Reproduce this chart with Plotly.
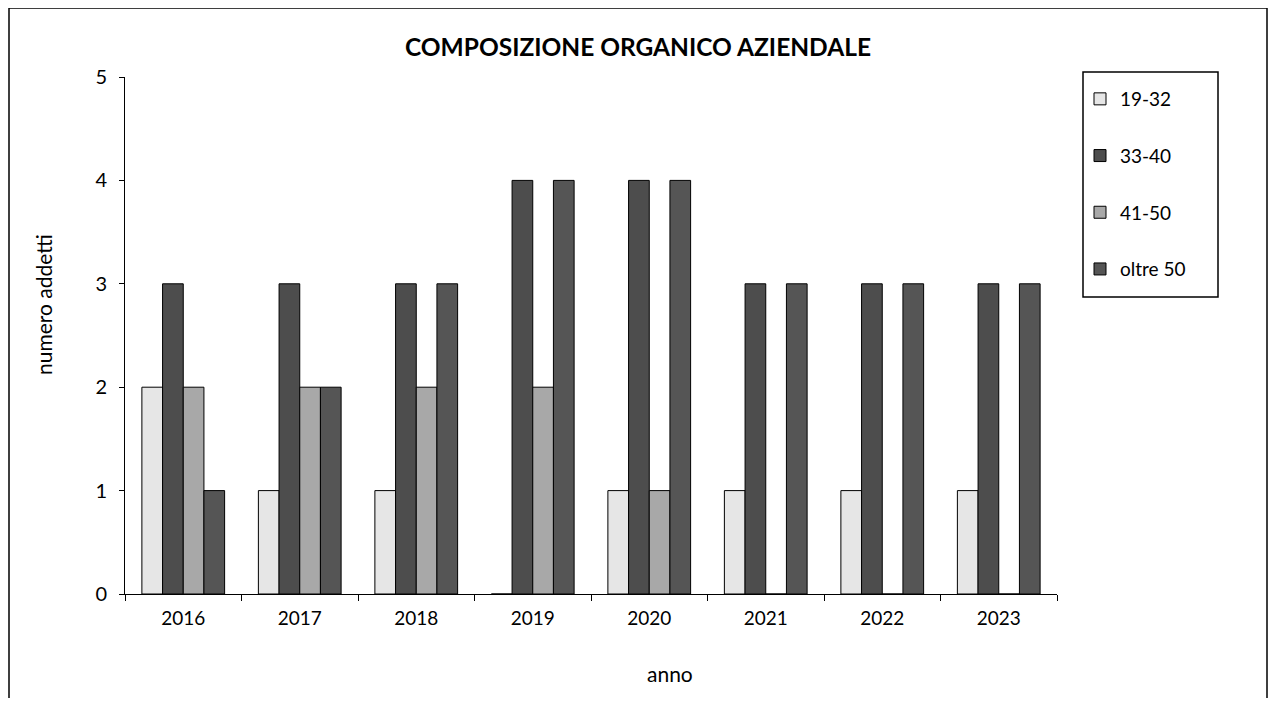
import plotly.graph_objects as go

anni = ["2016", "2017", "2018", "2019", "2020", "2021", "2022", "2023"]
s_19_32 = [2, 1, 1, 0, 1, 1, 1, 1]
s_33_40 = [3, 3, 3, 4, 4, 3, 3, 3]
s_41_50 = [2, 2, 2, 2, 1, 0, 0, 0]
s_oltre50 = [1, 2, 3, 4, 4, 3, 3, 3]

series = [
    ("19-32", s_19_32, "#e6e6e6"),
    ("33-40", s_33_40, "#4d4d4d"),
    ("41-50", s_41_50, "#a8a8a8"),
    ("oltre 50", s_oltre50, "#555555"),
]

FONT = "Lato, Open Sans, sans-serif"

fig = go.Figure()
for name, vals, col in series:
    fig.add_trace(go.Bar(
        x=anni, y=vals, name=name, legendgroup=name,
        marker=dict(color=col, line=dict(color="black", width=1)),
    ))

# body margin of 8px: figure coords = screen coords - 8
OFF = 8
W, H = 1260, 690
L, R, T, B = 125 - OFF, 1057 - OFF, 77 - OFF, 594 - OFF
pw, ph = R - L, B - T

def px(x):
    return (x - OFF - L) / pw

def py(y):
    return (B - (y - OFF)) / ph

fig.update_layout(
    width=W, height=H,
    margin=dict(l=L, r=W - R, t=T, b=H - B),
    paper_bgcolor="white", plot_bgcolor="white",
    barmode="group", bargap=0.29, bargroupgap=0,
    font=dict(family=FONT, size=18, color="black"),
    title=dict(text="<b>COMPOSIZIONE ORGANICO AZIENDALE</b>", x=0.5, xanchor="center",
               y=1 - (47 - OFF) / H, yanchor="middle", font=dict(size=24.5, family=FONT)),
    legend=dict(
        x=px(1080), y=py(80), xanchor="left", yanchor="top",
        borderwidth=0, bgcolor="rgba(0,0,0,0)",
        traceorder="grouped", tracegroupgap=29,
        font=dict(size=19, family=FONT),
        itemwidth=30,
    ),
    xaxis=dict(
        showline=True, linecolor="black", linewidth=1,
        ticks="outside", tickson="boundaries", ticklen=6, tickcolor="black",
        showgrid=False, tickfont=dict(size=19), ticklabelstandoff=7,
    ),
    yaxis=dict(
        range=[0, 5], dtick=1,
        showline=True, linecolor="black", linewidth=1,
        ticks="outside", ticklen=5, tickcolor="black",
        showgrid=False, zeroline=False, tickfont=dict(size=20), ticklabelstandoff=8,
    ),
    annotations=[
        dict(text="numero addetti", xref="paper", yref="paper",
             x=px(43), y=py(305), xanchor="center", yanchor="middle",
             textangle=-90, showarrow=False, font=dict(size=21)),
        dict(text="anno", xref="paper", yref="paper",
             x=px(670), y=py(673), xanchor="center", yanchor="middle",
             showarrow=False, font=dict(size=21)),
    ],
    shapes=[
        dict(
            type="rect", xref="paper", yref="paper",
            x0=px(9), x1=px(1267), y0=py(740), y1=py(8),
            line=dict(color="black", width=1.5), fillcolor="rgba(0,0,0,0)", layer="below",
        ),
        dict(
            type="rect", xref="paper", yref="paper",
            x0=px(1083), x1=px(1218), y0=py(297), y1=py(72),
            line=dict(color="black", width=1.5), fillcolor="white", layer="below",
        ),
    ],
)

fig.write_html("out.html")
